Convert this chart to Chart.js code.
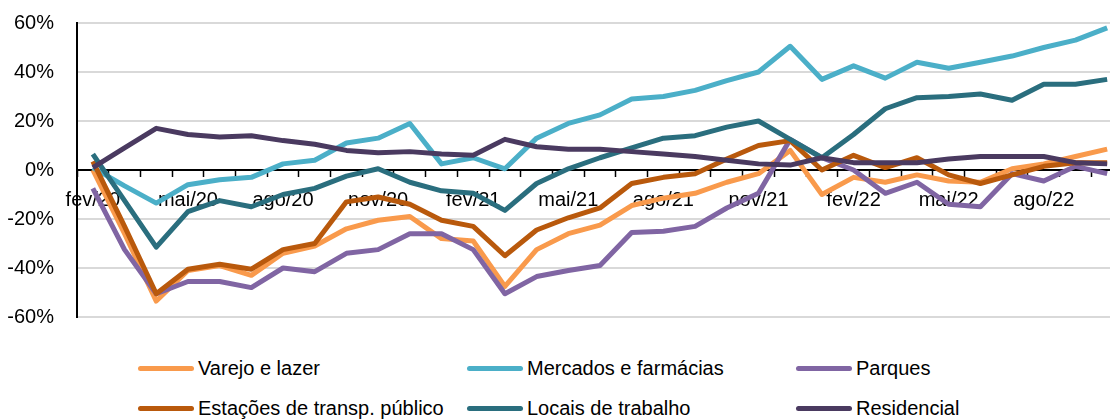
<!DOCTYPE html>
<html>
<head>
<meta charset="utf-8">
<script src="https://cdn.jsdelivr.net/npm/chart.js@4/dist/chart.umd.min.js"></script>
<style>
    html, body {
        margin: 0;
        padding: 0;
        background: #fff;
    }
    #wrap {
        position: relative;
        width: 1110px;
        height: 419px;
        overflow: hidden;
        font-family: 'Liberation Sans', Arial, sans-serif;
    }
    #myChart {
        position: absolute;
        left: 0;
        top: 0;
    }
    #legend {
        position: absolute;
        left: 138px;
        top: 348px;
        display: grid;
        grid-template-columns: 329px 329px 329px;
        grid-auto-rows: 40px;
    }
    .legend-item {
        display: flex;
        align-items: center;
        font-size: 20px;
        color: #000;
        white-space: nowrap;
    }
    .legend-line {
        display: inline-block;
        width: 56px;
        height: 5px;
        border-radius: 3px;
        margin-right: 4px;
    }
</style>
</head>
<body>
<div id="wrap">
    <canvas id="myChart" width="1130" height="330"></canvas>
    <div id="legend"></div>
</div>
<script>
const months = [
    'fev/20', 'mar/20', 'abr/20', 'mai/20', 'jun/20', 'jul/20', 'ago/20', 'set/20', 'out/20', 'nov/20', 'dez/20',
    'jan/21', 'fev/21', 'mar/21', 'abr/21', 'mai/21', 'jun/21', 'jul/21', 'ago/21', 'set/21', 'out/21', 'nov/21', 'dez/21',
    'jan/22', 'fev/22', 'mar/22', 'abr/22', 'mai/22', 'jun/22', 'jul/22', 'ago/22', 'set/22', 'out/22'
]

const varejo = [0, -26, -53.5, -41, -39, -43, -34, -31, -24, -20.5, -19, -28, -29, -47.5, -32.5, -26, -22.5, -14.5, -11.5, -9.5, -5, -1.5, 8, -10, -3, -5, -2, -4.5, -5, 0.5, 2.5, 5.5, 8.5]
const mercados = [1, -6.5, -13.5, -6, -4, -3, 2.5, 4, 11, 13, 19, 2.5, 5, 0.5, 13, 19, 22.5, 29, 30, 32.5, 36.5, 40, 50.5, 37, 42.5, 37.5, 44, 41.5, 44, 46.5, 50, 53, 58]
const parques = [-7.5, -32.5, -50.5, -45.5, -45.5, -48, -40, -41.5, -34, -32.5, -26, -26, -32.5, -50.5, -43.5, -41, -39, -25.5, -25, -23, -15.5, -9.5, 12.5, 5, 0, -9.5, -5, -14, -15, -1.5, -4.5, 1.5, -1.5]
const estacoes = [3.5, -23, -50.5, -40.5, -38.5, -40.5, -32.5, -30, -13, -11, -14, -20.5, -23, -35, -24.5, -19.5, -15.5, -5.5, -3, -1.5, 4.5, 10, 12, 0, 6, 1, 5, -2, -5.5, -2, 1.5, 3, 3]
const locais = [6.5, -12.5, -31.5, -17, -12.5, -15, -10, -7.5, -2.5, 0.5, -5, -8.5, -9.5, -16.5, -5.5, 0.5, 5, 9, 13, 14, 17.5, 20, 12.5, 5, 14.5, 25, 29.5, 30, 31, 28.5, 35, 35, 37]
const residencial = [1, 9, 17, 14.5, 13.5, 14, 12, 10.5, 8, 7, 7.5, 6.5, 6, 12.5, 9.5, 8.5, 8.5, 7.5, 6.5, 5.5, 4, 2.5, 2, 5, 3, 3, 3, 4.5, 5.5, 5.5, 5.5, 3, 2.5]

const seriesNames = ['Varejo e lazer', 'Mercados e farmácias', 'Parques', 'Estações de transp. público', 'Locais de trabalho', 'Residencial']
const seriesData = [varejo, mercados, parques, estacoes, locais, residencial]
const seriesColors = ['#f99a4c', '#4bafc8', '#8065a3', '#b9590c', '#2a6e7e', '#4a3a60']

const buildDatasets = () => {
    return seriesNames.map((name, i) => ({
        label: name,
        data: seriesData[i],
        borderColor: seriesColors[i],
        backgroundColor: seriesColors[i],
        borderWidth: 5,
        borderJoinStyle: 'round',
        pointRadius: 0,
        tension: 0,
        // later series sit on top, as in the original sheet
        order: seriesNames.length - i
    }))
}

const buildLegend = () => {
    const legend = document.getElementById('legend')
    seriesNames.forEach((name, i) => {
        const item = document.createElement('div')
        item.className = 'legend-item'
        const line = document.createElement('span')
        line.className = 'legend-line'
        line.style.background = seriesColors[i]
        const text = document.createElement('span')
        text.textContent = name
        item.appendChild(line)
        item.appendChild(text)
        legend.appendChild(item)
    })
}

// keep the plot edges where the paddings say, whatever the tick labels need
const noScalePadding = (scale) => {
    scale.paddingTop = 0
    scale.paddingBottom = 0
    scale.paddingLeft = 0
    scale.paddingRight = 0
}

const ctx = document.getElementById('myChart').getContext('2d')

const myChart = new Chart(ctx, {
    type: 'line',
    data: {
        labels: months,
        datasets: buildDatasets()
    },
    options: {
        responsive: false,
        animation: false,
        devicePixelRatio: 1,
        layout: {
            padding: { top: 23, right: 7, bottom: 13, left: 0 }
        },
        plugins: {
            legend: { display: false },
            tooltip: { enabled: false }
        },
        scales: {
            x: {
                type: 'category',
                position: { y: 0 },
                offset: true,
                afterFit: noScalePadding,
                grid: {
                    offset: true,
                    drawOnChartArea: false,
                    drawTicks: true,
                    tickLength: 6,
                    tickWidth: 1.5,
                    tickColor: '#000'
                },
                border: { color: '#000', width: 2 },
                ticks: {
                    autoSkip: false,
                    maxRotation: 0,
                    padding: 12,
                    color: '#000',
                    font: { family: 'Liberation Sans', size: 20 },
                    callback: (value, index) => index % 3 === 0 ? months[index] : ''
                }
            },
            y: {
                min: -60,
                max: 60,
                afterFit: (scale) => {
                    noScalePadding(scale)
                    scale.width = 77
                },
                grid: {
                    drawTicks: false,
                    lineWidth: 2,
                    color: (c) => c.tick && c.tick.value === 0 ? '#000' : '#d9d9d9'
                },
                border: { color: '#000', width: 2 },
                ticks: {
                    stepSize: 20,
                    padding: 23,
                    color: '#000',
                    font: { family: 'Liberation Sans', size: 20 },
                    callback: (value) => value + '%'
                }
            }
        }
    }
})

buildLegend()
</script>
</body>
</html>
